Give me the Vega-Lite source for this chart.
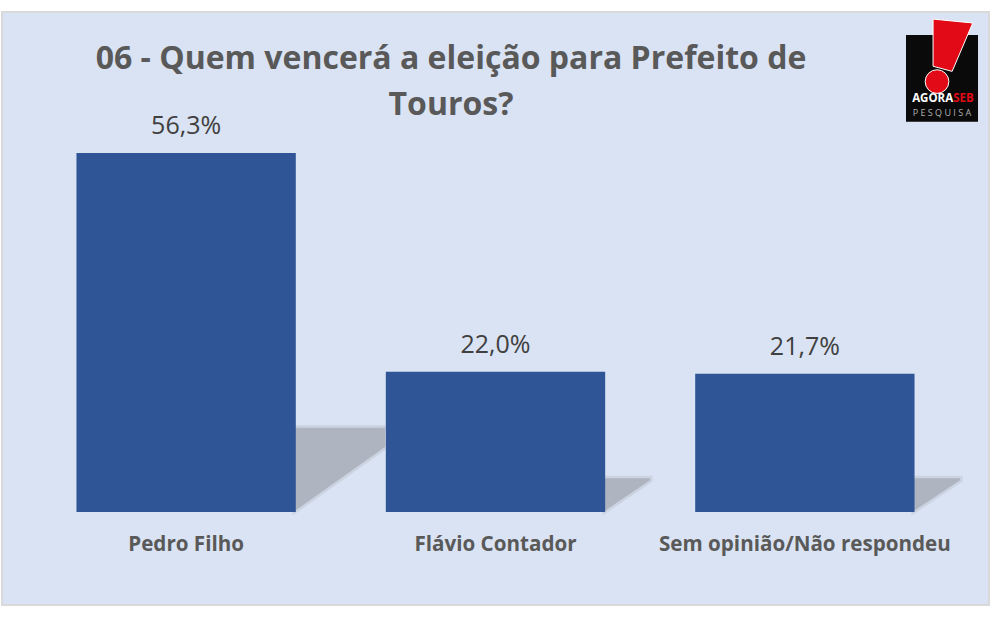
{
  "$schema": "https://vega.github.io/schema/vega-lite/v6.json",
  "autosize": {"type": "none"},
  "padding": {"left": 2, "top": 12, "right": 19, "bottom": 17},
  "width": 987,
  "height": 593,
  "background": "#ffffff",
  "view": {"fill": "#dae3f3", "stroke": "#d9d9d9", "strokeWidth": 2},
  "title": {
    "text": ["06 - Quem vencerá a eleição para Prefeito de", "Touros?"],
    "anchor": "start",
    "frame": "group",
    "align": "center",
    "dx": 449,
    "dy": 114,
    "font": "Open Sans",
    "fontSize": 32,
    "fontWeight": "bold",
    "color": "#595959",
    "lineHeight": 46
  },
  "datasets": {
    "votes": [
      {"candidato": "Pedro Filho", "pct": 56.3, "rotulo": "56,3%"},
      {"candidato": "Flávio Contador", "pct": 22.0, "rotulo": "22,0%"},
      {"candidato": "Sem opinião/Não respondeu", "pct": 21.7, "rotulo": "21,7%"}
    ],
    "shadows": [
      {"grupo": "a", "pos": 0.8906, "topo": 13.2, "base": 0.2},
      {"grupo": "a", "pos": 1.1641, "topo": 13.2, "base": 10.2},
      {"grupo": "b", "pos": 1.8328, "topo": 5.3, "base": 0.2},
      {"grupo": "b", "pos": 1.9696, "topo": 5.3, "base": 5.0},
      {"grupo": "c", "pos": 2.772, "topo": 5.3, "base": 0.2},
      {"grupo": "c", "pos": 2.912, "topo": 5.3, "base": 5.0}
    ]
  },
  "layer": [
    {
      "data": {"name": "shadows"},
      "mark": {"type": "area", "fill": "#aeb4c0", "stroke": "#aeb4c0", "strokeWidth": 5, "strokeOpacity": 0.35},
      "encoding": {
        "x": {"field": "pos", "type": "quantitative", "axis": null, "scale": {"domain": [0, 3], "nice": false, "zero": false}},
        "y": {"field": "topo", "type": "quantitative", "axis": null, "scale": {"domain": [-14.58, 78.41], "nice": false, "zero": false}},
        "y2": {"field": "base"},
        "detail": {"field": "grupo"}
      }
    },
    {
      "data": {"name": "votes"},
      "mark": {"type": "bar", "fill": "#2f5597"},
      "encoding": {
        "x": {
          "field": "candidato",
          "type": "nominal",
          "sort": null,
          "scale": {"type": "band", "paddingInner": 0.291, "paddingOuter": 0.2407},
          "axis": {
            "title": null,
            "orient": "bottom",
            "offset": -93,
            "domain": false,
            "ticks": false,
            "labelAngle": 0,
            "labelPadding": 22,
            "labelFont": "Open Sans",
            "labelFontSize": 20.6,
            "labelFontWeight": "bold",
            "labelColor": "#595959",
            "labelLimit": 320
          }
        },
        "y": {"field": "pct", "type": "quantitative", "axis": null, "scale": {"domain": [-14.58, 78.41], "nice": false, "zero": false}}
      }
    },
    {
      "data": {"name": "votes"},
      "mark": {"type": "text", "baseline": "bottom", "dy": -14, "font": "Open Sans", "fontSize": 25, "color": "#404040"},
      "encoding": {
        "x": {"field": "candidato", "type": "nominal", "sort": null, "axis": null, "scale": {"type": "band", "paddingInner": 0.291, "paddingOuter": 0.2407}},
        "y": {"field": "pct", "type": "quantitative", "axis": null, "scale": {"domain": [-14.58, 78.41], "nice": false, "zero": false}},
        "text": {"field": "rotulo"}
      }
    },
    {
      "data": {"values": [{"x1": 2.7477, "x2": 2.9666, "y1": 74.8, "y2": 61.2}]},
      "mark": {"type": "rect", "fill": "#0a0a0a"},
      "encoding": {
        "x": {"field": "x1", "type": "quantitative", "axis": null, "scale": {"domain": [0, 3], "nice": false, "zero": false}},
        "x2": {"field": "x2"},
        "y": {"field": "y1", "type": "quantitative", "axis": null, "scale": {"domain": [-14.58, 78.41], "nice": false, "zero": false}},
        "y2": {"field": "y2"}
      }
    },
    {
      "data": {"values": [
        {"pos": 2.830, "topo": 77.3, "base": 69.9},
        {"pos": 2.888, "topo": 77.0, "base": 69.1},
        {"pos": 2.949, "topo": 76.7, "base": 76.5}
      ]},
      "mark": {"type": "area", "fill": "#e30a17", "stroke": "#ffffff", "strokeWidth": 1},
      "encoding": {
        "x": {"field": "pos", "type": "quantitative", "axis": null, "scale": {"domain": [0, 3], "nice": false, "zero": false}},
        "y": {"field": "topo", "type": "quantitative", "axis": null, "scale": {"domain": [-14.58, 78.41], "nice": false, "zero": false}},
        "y2": {"field": "base"}
      }
    },
    {
      "data": {"values": [{"pos": 2.842, "val": 67.5}]},
      "mark": {"type": "point", "filled": true, "fill": "#e30a17", "stroke": "#ffffff", "strokeWidth": 1, "opacity": 1, "size": 560},
      "encoding": {
        "x": {"field": "pos", "type": "quantitative", "axis": null, "scale": {"domain": [0, 3], "nice": false, "zero": false}},
        "y": {"field": "val", "type": "quantitative", "axis": null, "scale": {"domain": [-14.58, 78.41], "nice": false, "zero": false}}
      }
    },
    {
      "data": {"values": [{"pos": 2.891, "val": 64.7, "t": "AGORA"}]},
      "mark": {"type": "text", "align": "right", "font": "Open Sans", "fontSize": 11.5, "fontWeight": "bold", "color": "#ffffff"},
      "encoding": {
        "x": {"field": "pos", "type": "quantitative", "axis": null, "scale": {"domain": [0, 3], "nice": false, "zero": false}},
        "y": {"field": "val", "type": "quantitative", "axis": null, "scale": {"domain": [-14.58, 78.41], "nice": false, "zero": false}},
        "text": {"field": "t"}
      }
    },
    {
      "data": {"values": [{"pos": 2.891, "val": 64.7, "t": "SEB"}]},
      "mark": {"type": "text", "align": "left", "font": "Open Sans", "fontSize": 11.5, "fontWeight": "bold", "color": "#e30a17"},
      "encoding": {
        "x": {"field": "pos", "type": "quantitative", "axis": null, "scale": {"domain": [0, 3], "nice": false, "zero": false}},
        "y": {"field": "val", "type": "quantitative", "axis": null, "scale": {"domain": [-14.58, 78.41], "nice": false, "zero": false}},
        "text": {"field": "t"}
      }
    },
    {
      "data": {"values": [{"pos": 2.857, "val": 62.6, "t": "P E S Q U I S A"}]},
      "mark": {"type": "text", "font": "Open Sans", "fontSize": 9, "color": "#b0b0b0"},
      "encoding": {
        "x": {"field": "pos", "type": "quantitative", "axis": null, "scale": {"domain": [0, 3], "nice": false, "zero": false}},
        "y": {"field": "val", "type": "quantitative", "axis": null, "scale": {"domain": [-14.58, 78.41], "nice": false, "zero": false}},
        "text": {"field": "t"}
      }
    }
  ],
  "resolve": {"scale": {"x": "independent"}}
}
